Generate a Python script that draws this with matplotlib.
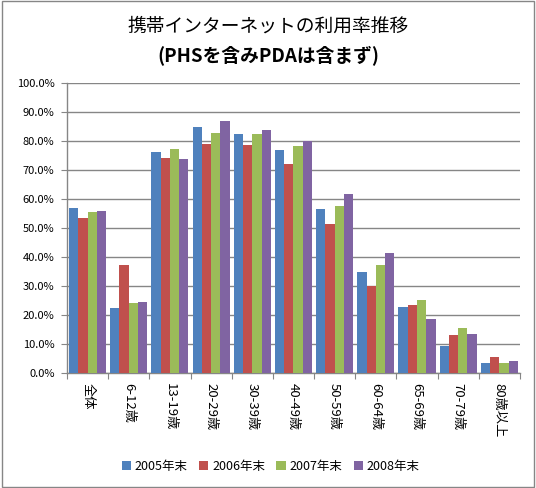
import numpy as np
import matplotlib
matplotlib.use('Agg')
import matplotlib.pyplot as plt
from matplotlib.patches import Rectangle

plt.rcParams['font.family'] = ['Noto Sans CJK JP', 'DejaVu Sans']

# ===================== dados =====================
categories = ['全体', '6-12歳', '13-19歳', '20-29歳', '30-39歳', '40-49歳',
              '50-59歳', '60-64歳', '65-69歳', '70-79歳', '80歳以上']
series_names = ['2005年末', '2006年末', '2007年末', '2008年末']
v2005 = [57.0, 22.5, 76.3, 84.9, 82.5, 77.0, 56.7, 34.9, 22.9, 9.4, 3.6]
v2006 = [53.6, 37.4, 74.3, 79.1, 78.7, 72.2, 51.5, 30.0, 23.6, 13.2, 5.6]
v2007 = [55.6, 24.3, 77.4, 82.9, 82.5, 78.4, 57.7, 37.4, 25.3, 15.6, 3.6]
v2008 = [56.0, 24.6, 73.9, 87.0, 83.9, 79.9, 61.8, 41.5, 18.7, 13.6, 4.3]
yticks = np.arange(0, 101, 10)

colors = ['#4F81BD', '#C0504D', '#9BBB59', '#8064A2']
grid_color = '#868686'

# ===================== figura =====================
fig = plt.figure(figsize=(5.36, 4.88), dpi=100)
fig.patches.append(Rectangle((0.003, 0.003), 0.994, 0.994, transform=fig.transFigure,
                             fill=False, edgecolor=grid_color, linewidth=1))

ax = fig.add_axes([0.125, 0.2357, 0.845, 0.594])

x = np.arange(len(categories))
w = 0.225
for i, (vals, name) in enumerate(zip([v2005, v2006, v2007, v2008], series_names)):
    ax.bar(x + (i - 1.5) * w, vals, width=w, color=colors[i], label=name, zorder=3)

ax.set_xlim(-0.5, len(categories) - 0.5)
ax.set_ylim(0, 100)
ax.set_yticks(yticks)
ax.set_yticklabels([f'{t:.1f}%' for t in yticks], fontsize=8)
ax.yaxis.grid(True, color=grid_color, linewidth=1, zorder=0)

ax.set_xticks(np.arange(len(categories) + 1) - 0.5)
ax.set_xticklabels([])
ax.set_xticks(x, minor=True)
ax.set_xticklabels(categories, minor=True, rotation=-90, fontsize=9.5,
                   va='top', ha='center')
ax.tick_params(axis='x', which='minor', length=0, pad=7)
ax.tick_params(axis='x', which='major', length=4, color=grid_color)
ax.tick_params(axis='y', length=4, color=grid_color, pad=5)

for s in ['top', 'right']:
    ax.spines[s].set_visible(False)
for s in ['left', 'bottom']:
    ax.spines[s].set_color(grid_color)
    ax.spines[s].set_linewidth(1)

fig.text(0.5, 0.947, '携帯インターネットの利用率推移', ha='center', va='center', fontsize=13.5)
fig.text(0.5, 0.887, '(PHSを含みPDAは含まず)', ha='center', va='center',
         fontsize=13.5, fontweight='bold')

fig.legend(loc='center', bbox_to_anchor=(0.505, 0.045), ncol=4, frameon=False,
           fontsize=9, handlelength=0.75, handleheight=0.75, handletextpad=0.3,
           columnspacing=0.9)

fig.savefig('out.png', dpi=100)
